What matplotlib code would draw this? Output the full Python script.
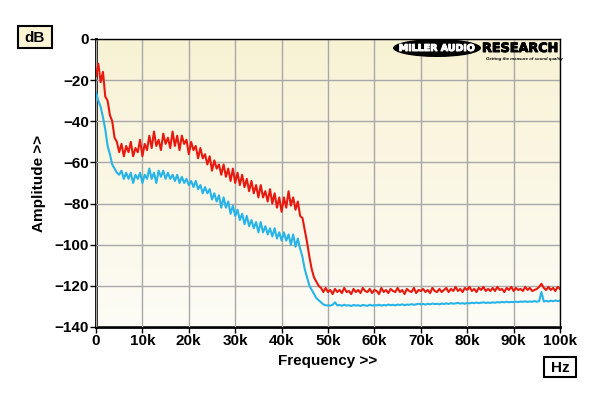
import numpy as np
import matplotlib
matplotlib.use("Agg")
import matplotlib.pyplot as plt
import matplotlib.patheffects as pe
from matplotlib.patches import Ellipse, Rectangle

plt.rcParams['font.family'] = ['Liberation Sans', 'DejaVu Sans']

# frequency grid, 0 .. 100 kHz in 500 Hz steps
freq = np.arange(0, 100001, 500)

# red trace, 0 .. 50 kHz
red_lo = [
    -18, -12, -21, -16, -28, -30, -37, -40, -48, -50,
    -55, -51, -57, -52, -55, -50, -57, -53, -55, -49,
    -57, -51, -54, -47, -53, -45, -52, -49, -54, -46,
    -51, -48, -53, -45, -52, -47, -54, -47, -51, -49,
    -56, -50, -54, -52, -58, -53, -58, -56, -61, -57,
    -64, -59, -63, -61, -66, -61, -67, -63, -69, -63,
    -70, -65, -71, -66, -72, -68, -74, -69, -75, -71,
    -77, -71, -77, -74, -79, -73, -80, -75, -82, -77,
    -84, -77, -82, -74, -81, -77, -83, -79, -86, -87,
    -93, -99, -106, -112, -116, -118, -120, -121, -123, -121,
    -123,
]
# red trace, 50.5 .. 100 kHz
red_hi = [
    -122, -124, -121.5, -123, -122, -123.5, -121, -123, -122.5, -124,
    -121.5, -123, -122, -123.5, -121, -122.5, -123, -121.5, -123.5, -122,
    -122.5, -124, -121, -123, -122, -123.5, -121.5, -122.5, -123, -121,
    -123, -122, -124, -121.5, -122.5, -123, -121, -123.5, -122, -122.5,
    -121.5, -123, -122, -123.5, -121, -122.5, -123, -121.5, -123, -122,
    -121, -123, -121.5, -122.5, -120.5, -122.5, -121.5, -123, -121, -122,
    -120.5, -122.5, -121.5, -123, -121, -122, -120.5, -122.5, -121.5, -122.5,
    -121, -122.5, -120.5, -122, -121.5, -123, -121, -122, -120.5, -122.5,
    -121, -122, -121.5, -122.5, -120.5, -122, -121, -122.5, -122, -121.5,
    -120.5, -119, -121, -122, -120.5, -122, -121, -122.5, -120.5, -121.5,
]

# blue trace, 0 .. 50 kHz
blue_lo = [
    -26, -30, -33, -38, -44, -52, -56, -61, -63, -65,
    -66, -64, -68, -65, -68, -65, -70, -66, -68, -65,
    -70, -66, -68, -63, -68, -65, -70, -64, -67, -64,
    -68, -65, -68, -66, -69, -66, -70, -67, -70, -68,
    -71, -69, -72, -69, -73, -71, -75, -72, -75, -73,
    -78, -75, -79, -76, -82, -77, -82, -79, -85, -81,
    -86, -83, -88, -85, -90, -86, -91, -88, -92, -89,
    -94, -89, -94, -91, -95, -92, -96, -92, -97, -94,
    -98, -94, -98, -95, -100, -95, -101, -97, -102, -106,
    -112, -116, -120, -122, -124, -126, -127, -128, -129, -129.5,
    -129.5,
]
# blue trace, 50.5 .. 100 kHz
blue_hi = [
    -129.6, -129.2, -128, -129.5, -129.3, -129.7, -129.2, -129.6, -129.4, -129.8,
    -129.3, -129.6, -129.4, -129.8, -129.3, -129.5, -129.7, -129.2, -129.6, -129.4,
    -129.5, -129.2, -129.6, -129.3, -129.5, -129.1, -129.4, -129.2, -129.5, -129.1,
    -129.3, -129.0, -129.4, -129.1, -129.2, -128.9, -129.2, -129.0, -128.7, -129.0,
    -128.8, -129.1, -128.7, -129.0, -128.6, -128.9, -128.7, -129.0, -128.6, -128.8,
    -128.5, -128.8, -128.4, -128.7, -128.5, -128.3, -128.6, -128.4, -128.7, -128.3,
    -128.5, -128.2, -128.4, -128.1, -128.4, -128.2, -128.0, -128.3, -128.1, -128.3,
    -128.0, -128.2, -127.9, -128.1, -127.8, -128.0, -127.7, -128.0, -127.8, -127.9,
    -127.7, -127.9, -127.6, -127.8, -127.5, -127.8, -127.6, -127.7, -127.4, -127.7,
    -127.5, -123, -127.6, -127.3, -127.6, -127.2, -127.5, -127.1, -127.4, -127.2,
]

xticks = np.arange(0, 100001, 10000)
xlabels = ['0'] + ['%dk' % (v // 1000) for v in xticks[1:]]
yticks = np.arange(-140, 1, 20)

red = np.array(red_lo + red_hi)
blue = np.array(blue_lo + blue_hi)

fig = plt.figure(figsize=(6, 3.96), dpi=100)
ax = fig.add_axes([96 / 600, 69 / 396, 464 / 600, 288 / 396])

# pale yellow to white gradient behind the plot
top = np.array([248, 242, 212]) / 255
bot = np.array([253, 252, 246]) / 255
grad = np.linspace(0, 1, 256)[:, None, None] * (bot - top) + top
ax.imshow(grad, extent=[0, 100000, -140, 0], aspect='auto', zorder=0)

ax.plot(freq, blue, color='#27b4e8', lw=1.5, zorder=3)
ax.plot(freq, red, color='#e8190f', lw=1.5, zorder=4)

ax.set_xlim(0, 100000)
ax.set_ylim(-140, 0)
ax.set_xticks(xticks)
ax.set_xticklabels(xlabels)
ax.set_yticks(yticks)
ax.grid(True, color='#a8a8a8', lw=1)
ax.set_axisbelow(False)
for g in ax.get_xgridlines() + ax.get_ygridlines():
    g.set_zorder(1)
ax.tick_params(length=4, width=1, labelsize=11, pad=1)
for lbl in ax.get_xticklabels() + ax.get_yticklabels():
    lbl.set_fontweight('bold')
for s in ['left', 'bottom']:
    ax.spines[s].set_linewidth(2)
for s in ['top', 'right']:
    ax.spines[s].set_linewidth(1)
    ax.spines[s].set_zorder(5)

ax.set_xlabel('Frequency >>', fontsize=11, fontweight='bold', labelpad=4)
ax.set_ylabel('Amplitude >>', fontsize=11, fontweight='bold', labelpad=6)

# overlay in pixel coordinates for boxes and logo
ov = fig.add_axes([0, 0, 1, 1])
ov.set_xlim(0, 600)
ov.set_ylim(396, 0)
ov.axis('off')

ov.add_patch(Rectangle((18, 26), 34, 22, fc='#fbf5d6', ec='black', lw=1.5))
ov.text(35, 37.5, 'dB', ha='center', va='center', fontsize=11, fontweight='bold')
ov.add_patch(Rectangle((544, 357), 32, 20, fc='white', ec='black', lw=1.5))
ov.text(560, 367.5, 'Hz', ha='center', va='center', fontsize=11, fontweight='bold')

ov.add_patch(Ellipse((437, 48), 88, 18, fc='black', ec='none'))
ov.text(437, 48.5, 'MILLER AUDIO', ha='center', va='center', color='white',
        fontsize=6.8, fontweight='bold', family='DejaVu Sans',
        path_effects=[pe.withStroke(linewidth=0.7, foreground='white')])
ov.text(482, 48.5, 'RESEARCH', ha='left', va='center', color='black',
        fontsize=9.2, fontweight='bold', family='DejaVu Sans',
        path_effects=[pe.withStroke(linewidth=0.7, foreground='black')])
ov.text(524, 59, 'Getting the measure of sound quality', ha='center', va='center',
        fontsize=3.2, fontweight='bold', style='italic')

fig.savefig('out.png', dpi=100)
